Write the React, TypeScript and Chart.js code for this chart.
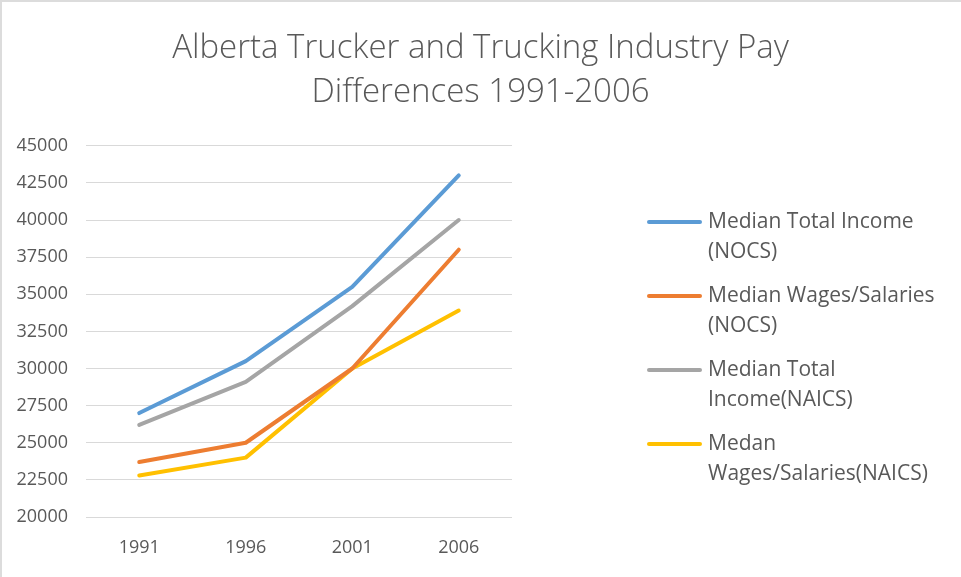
import React, { useEffect, useRef } from "react";
import { Chart, registerables } from "chart.js";

Chart.register(...registerables);

const titleLines = ["Alberta Trucker and Trucking Industry Pay", "Differences 1991-2006"];
const categories = ["1991", "1996", "2001", "2006"];
const seriesLabels = [
  "Median Total Income\n(NOCS)",
  "Median Wages/Salaries\n(NOCS)",
  "Median Total\nIncome(NAICS)",
  "Medan\nWages/Salaries(NAICS)",
];
const medianTotalIncomeNocs = [27000, 30500, 35500, 43000];
const medianWagesNocs = [23700, 25000, 30000, 38000];
const medianTotalIncomeNaics = [26200, 29100, 34200, 40000];
const medanWagesNaics = [22800, 24000, 30000, 33900];
const seriesColors = ["#5B9BD5", "#ED7D31", "#A5A5A5", "#FFC000"];
const yMin = 20000;
const yMax = 45000;
const yStep = 2500;

const FONT = "'Open Sans', 'Noto Sans', sans-serif";
const TEXT = "#595959";

const legendPlugin = {
  id: "customLegend",
  afterDraw(chart: any) {
    const ctx = chart.ctx;
    const startX = 647;
    const lineLen = 55;
    const startY = 222;
    const step = 74;
    const lineGap = 30;
    ctx.save();
    chart.data.datasets.forEach((ds: any, i: number) => {
      const y = startY + i * step;
      ctx.strokeStyle = ds.borderColor;
      ctx.lineWidth = 4;
      ctx.lineCap = "round";
      ctx.beginPath();
      ctx.moveTo(startX + 2, y);
      ctx.lineTo(startX + lineLen - 2, y);
      ctx.stroke();
      ctx.fillStyle = TEXT;
      ctx.font = `21px ${FONT}`;
      ctx.textBaseline = "middle";
      ctx.textAlign = "left";
      String(ds.label)
        .split("\n")
        .forEach((t: string, j: number) => {
          ctx.fillText(t, startX + lineLen + 6, y + j * lineGap);
        });
    });
    ctx.restore();
  },
};

export default function App() {
  const ref = useRef<HTMLCanvasElement | null>(null);
  useEffect(() => {
    if (!ref.current) return;
    const series = [medianTotalIncomeNocs, medianWagesNocs, medianTotalIncomeNaics, medanWagesNaics];
    const chart = new Chart(ref.current, {
      type: "line",
      data: {
        labels: categories,
        datasets: series.map((d, i) => ({
          label: seriesLabels[i],
          data: d,
          borderColor: seriesColors[i],
          backgroundColor: seriesColors[i],
          borderWidth: 4,
          borderCapStyle: "round",
          borderJoinStyle: "round",
          pointRadius: 0,
          tension: 0,
          fill: false,
          yAxisID: "y",
        })),
      },
      options: {
        animation: false,
        responsive: false,
        layout: { padding: { left: 0, right: 0, top: 0, bottom: 0 } },
        plugins: {
          legend: { display: false },
          tooltip: { enabled: false },
          title: {
            display: true,
            text: titleLines,
            color: TEXT,
            font: { family: FONT, size: 33, weight: "300", lineHeight: 1.33 },
            padding: { top: 27, bottom: 31 },
          },
        },
        scales: {
          x: {
            offset: true,
            grid: { display: false, drawTicks: false },
            border: { display: false },
            ticks: { color: TEXT, font: { family: FONT, size: 18 }, padding: 20 },
            afterFit(scale: any) {
              scale.height = 60;
            },
          },
          y: {
            min: yMin,
            max: yMax,
            grid: { color: "#D9D9D9", lineWidth: 1, drawTicks: false },
            border: { display: false },
            ticks: {
              stepSize: yStep,
              color: TEXT,
              font: { family: FONT, size: 18 },
              padding: 18,
              callback: (v: any) => String(v),
            },
            afterFit(scale: any) {
              scale.width = 86;
            },
          },
          spacer: {
            type: "linear",
            position: "right",
            display: true,
            grid: { display: false, drawTicks: false },
            border: { display: false },
            ticks: { display: false },
            afterFit(scale: any) {
              scale.width = 449;
            },
          },
        },
      },
      plugins: [legendPlugin],
    } as any);
    return () => chart.destroy();
  }, []);
  return (
    <div style={{ position: "fixed", left: 0, top: 0, width: 961, height: 577, background: "#fff" }}>
      <canvas ref={ref} width={961} height={577} style={{ position: "absolute", left: 0, top: 0 }} />
      <div
        style={{
          position: "absolute",
          left: 0,
          top: 0,
          width: 961,
          height: 577,
          boxSizing: "border-box",
          borderTop: "2px solid #DCDCDC",
          borderLeft: "2px solid #DCDCDC",
          pointerEvents: "none",
        }}
      />
    </div>
  );
}
